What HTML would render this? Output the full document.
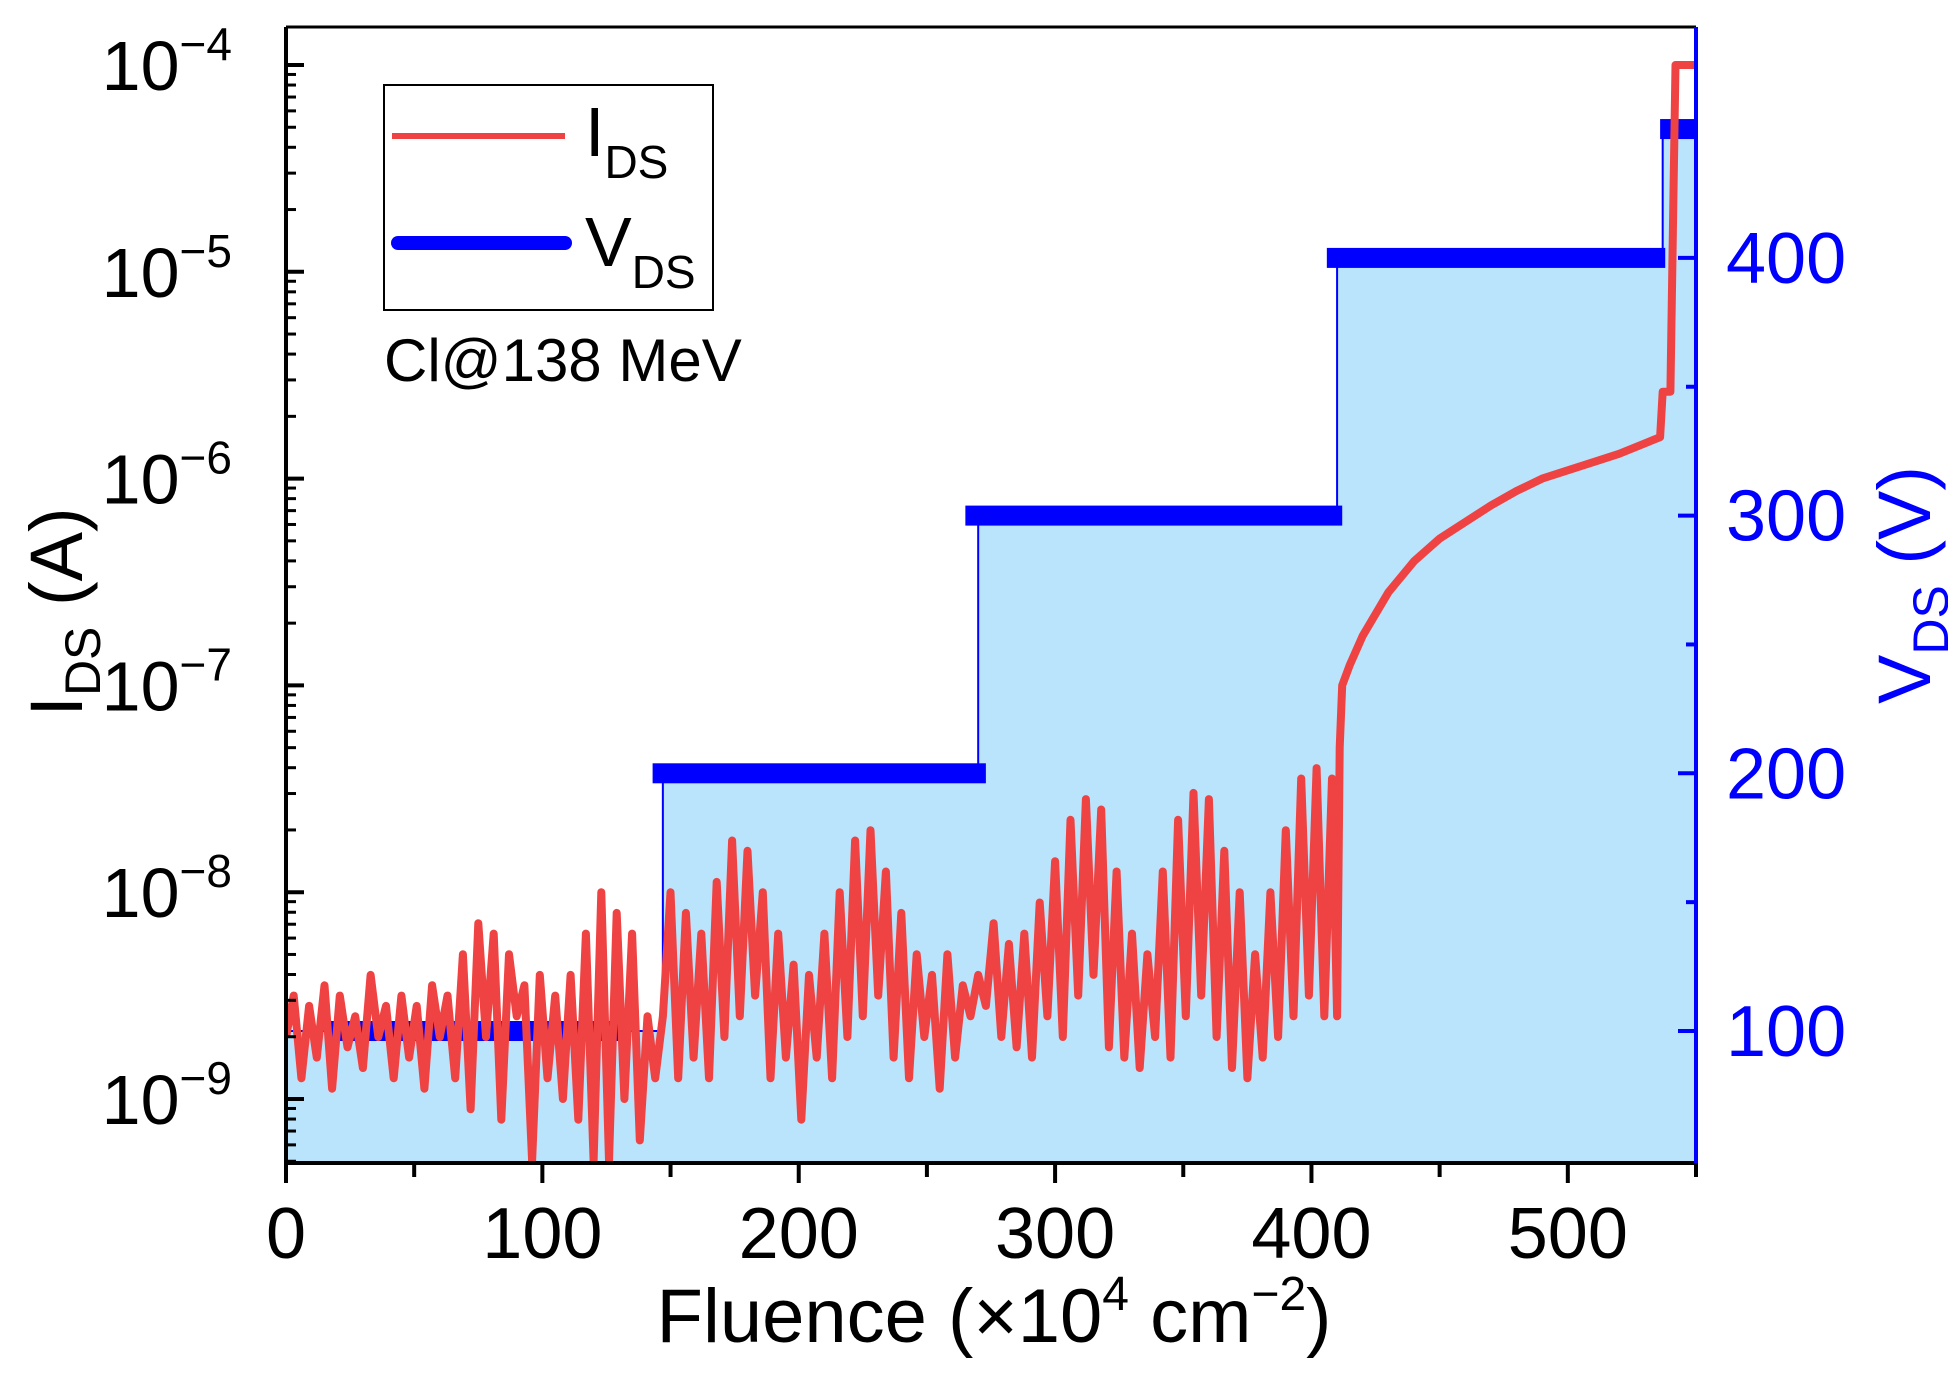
<!DOCTYPE html>
<html><head><meta charset="utf-8"><style>
body{margin:0;background:#fff}
svg{display:block;font-family:"Liberation Sans",sans-serif}
</style></head><body>
<svg id="chart" width="1948" height="1377" viewBox="0 0 1948 1377">
<g id="plot"></g>
</svg>
<script>
const iFluence=[0,3,6,9,12,15,18,21,24,27,30,33,36,39,42,45,48,51,54,57,60,63,66,69,72,75,78,81,84,87,90,93,96,99,102,105,108,111,114,117,120,123,126,129,132,135,138,141,144,147,150,153,156,159,162,165,168,171,174,177,180,183,186,189,192,195,198,201,204,207,210,213,216,219,222,225,228,231,234,237,240,243,246,249,252,255,258,261,264,267,270,273,276,279,282,285,288,291,294,297,300,303,306,309,312,315,318,321,324,327,330,333,336,339,342,345,348,351,354,357,360,363,366,369,372,375,378,381,384,387,390,393,396,399,402,405,408,410,411,412,415,420,430,440,450,460,470,480,490,500,510,520,530,536,537,540,541,542,550];
const iLog=[-8.7,-8.5,-8.9,-8.55,-8.8,-8.45,-8.95,-8.5,-8.75,-8.6,-8.85,-8.4,-8.7,-8.55,-8.9,-8.5,-8.8,-8.55,-8.95,-8.45,-8.7,-8.5,-8.9,-8.3,-9.05,-8.15,-8.7,-8.2,-9.1,-8.3,-8.6,-8.45,-9.3,-8.4,-8.9,-8.5,-9.0,-8.4,-9.1,-8.2,-9.3,-8.0,-9.3,-8.1,-9.0,-8.2,-9.2,-8.6,-8.9,-8.6,-8.0,-8.9,-8.1,-8.8,-8.2,-8.9,-7.95,-8.7,-7.75,-8.6,-7.8,-8.5,-8.0,-8.9,-8.2,-8.8,-8.35,-9.1,-8.4,-8.8,-8.2,-8.9,-8.0,-8.7,-7.75,-8.6,-7.7,-8.5,-7.9,-8.8,-8.1,-8.9,-8.3,-8.7,-8.4,-8.95,-8.3,-8.8,-8.45,-8.6,-8.4,-8.55,-8.15,-8.7,-8.25,-8.75,-8.2,-8.8,-8.05,-8.6,-7.85,-8.7,-7.65,-8.5,-7.55,-8.4,-7.6,-8.75,-7.9,-8.8,-8.2,-8.85,-8.3,-8.7,-7.9,-8.8,-7.65,-8.6,-7.52,-8.5,-7.55,-8.7,-7.8,-8.85,-8.0,-8.9,-8.3,-8.8,-8.0,-8.7,-7.7,-8.6,-7.45,-8.5,-7.4,-8.6,-7.45,-8.6,-7.3,-7.0,-6.9,-6.76,-6.55,-6.4,-6.29,-6.21,-6.13,-6.06,-6.0,-5.96,-5.92,-5.88,-5.83,-5.8,-5.58,-5.58,-4.8,-4.0,-4.0];
const vStepStart=[0,147,270,410,537];
const vStepEnd=[147,270,410,537,550];
const vLevels=[100,200,300,400,450];
const vBarStart=[16,143,265,406,536];
const vBarEnd=[130,273,412,538,550];
const xTicks=[0,100,200,300,400,500];
const yExps=[-4,-5,-6,-7,-8,-9];
const vTicks=[100,200,300,400];

const L=286,R=1696,T=27,B=1163;
const X=f=>L+(f-0)/(550-0)*(R-L);
const Y=e=>65+(-4-e)*206.8;
const YV=v=>1031-(v-100)*2.577;
const NS='http://www.w3.org/2000/svg';
const g=document.getElementById('plot');
function mk(tag,at,parent){const e=document.createElementNS(NS,tag);for(const k in at)e.setAttribute(k,at[k]);(parent||g).appendChild(e);return e;}

const defs=mk('defs',{});const cp=mk('clipPath',{id:'clip'},defs);mk('rect',{x:L,y:T,width:R-L,height:B-T},cp);

let d='M'+X(0)+','+B;
for(let i=0;i<vLevels.length;i++){d+=' L'+X(vStepStart[i])+','+YV(vLevels[i])+' L'+X(vStepEnd[i])+','+YV(vLevels[i]);}
d+=' L'+X(550)+','+B+' Z';
const fill=mk('path',{d:d,fill:'#b9e4fb',stroke:'#0000ff','stroke-width':2,'clip-path':'url(#clip)'});


for(let i=0;i<vLevels.length;i++){
  const b=mk('rect',{x:X(vBarStart[i]),y:YV(vLevels[i])-10,width:X(vBarEnd[i])-X(vBarStart[i]),height:20,fill:'#0000ff','clip-path':'url(#clip)'});
  
  
}
let p='';
for(let i=0;i<iFluence.length;i++){p+=(i?' L':'M')+X(iFluence[i]).toFixed(1)+','+Y(iLog[i]).toFixed(1);}
const line=mk('path',{d:p,fill:'none',stroke:'#ef4343','stroke-width':8,'stroke-linejoin':'round','clip-path':'url(#clip)'});



mk('line',{x1:L,y1:T,x2:L,y2:B,stroke:'#000','stroke-width':4});
mk('line',{x1:L-2,y1:B,x2:R,y2:B,stroke:'#000','stroke-width':4});
mk('line',{x1:L,y1:T,x2:R,y2:T,stroke:'#000','stroke-width':3});
mk('line',{x1:R,y1:T,x2:R,y2:B+2,stroke:'#0000ff','stroke-width':4});

for(let f=0;f<=550;f+=50){mk('line',{x1:X(f),y1:B,x2:X(f),y2:B+(f%100===0?20:14),stroke:'#000','stroke-width':4});}
xTicks.forEach(f=>{const t=mk('text',{x:X(f),y:1258,'font-size':72,'text-anchor':'middle'});t.textContent=f;

});
for(let e=-10;e<=-4;e++){
  if(Y(e)>=T&&Y(e)<=B)mk('line',{x1:L,y1:Y(e),x2:L+18,y2:Y(e),stroke:'#000','stroke-width':4});
  for(let m=2;m<10;m++){const yy=Y(e+Math.log10(m));if(yy>=T&&yy<=B)mk('line',{x1:L,y1:yy,x2:L+10,y2:yy,stroke:'#000','stroke-width':3});}
}
yExps.forEach(e=>{const t=mk('text',{x:232,y:Y(e)+25,'font-size':70,'text-anchor':'end'});
t.innerHTML='10<tspan dy="-30" font-size="46">\u2212'+(-e)+'</tspan>';

});
for(let v=100;v<=450;v+=50){mk('line',{x1:R,y1:YV(v),x2:R-(v%100===0?18:10),y2:YV(v),stroke:'#0000ff','stroke-width':4});}
vTicks.forEach(v=>{const t=mk('text',{x:1726,y:YV(v)+25,'font-size':72,fill:'#0000ff'});t.textContent=v;

});
</script>
<svg style="position:absolute;left:0;top:0" width="1948" height="1377">
<g font-family="Liberation Sans, sans-serif">
<text x="994" y="1342" font-size="76" text-anchor="middle">Fluence (×10<tspan dy="-32" font-size="48">4</tspan><tspan dy="32"> cm</tspan><tspan dy="-32" font-size="48">−2</tspan><tspan dy="32">)</tspan></text>
<text transform="translate(82,612) rotate(-90)" font-size="74" text-anchor="middle">I<tspan dy="18" font-size="50">DS</tspan><tspan dy="-18"> (A)</tspan></text>
<text transform="translate(1930,585) rotate(-90)" font-size="74" text-anchor="middle" fill="#0000ff">V<tspan dy="18" font-size="50">DS</tspan><tspan dy="-18"> (V)</tspan></text>
<g>
<rect x="384" y="85" width="329" height="225" fill="#fff" stroke="#000" stroke-width="2"/>
<line x1="392" y1="136" x2="565" y2="136" stroke="#ef4343" stroke-width="6"/>
<text x="585" y="156" font-size="70">I<tspan dy="22" font-size="46">DS</tspan></text>
<line x1="398" y1="243" x2="565" y2="243" stroke="#0000ff" stroke-width="14" stroke-linecap="round"/>
<text x="585" y="266" font-size="70">V<tspan dy="22" font-size="46">DS</tspan></text>
</g>
<text x="384" y="381" font-size="60">Cl@138 MeV</text>
</g></svg>
</body></html>
